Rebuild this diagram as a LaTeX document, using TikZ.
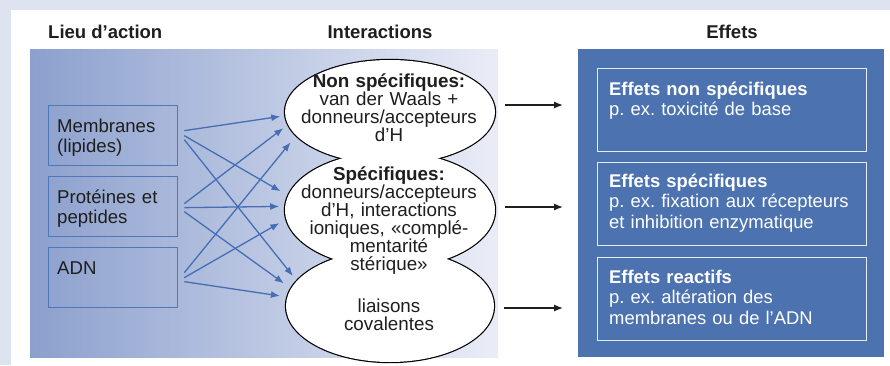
\documentclass[tikz,border=0pt]{standalone}
\usepackage{fontspec}
\setmainfont{Liberation Sans}
\frenchspacing
\usetikzlibrary{arrows.meta,shapes.geometric}
\definecolor{bgstrip}{RGB}{222,228,239}
\definecolor{gradL}{RGB}{140,160,205}
\definecolor{gradR}{RGB}{234,237,247}
\definecolor{boxblue}{RGB}{79,120,184}
\definecolor{arrblue}{RGB}{70,110,180}
\definecolor{panelblue}{RGB}{76,115,176}
\definecolor{fborder}{RGB}{230,236,246}
\definecolor{txt}{RGB}{30,30,30}
\tikzset{
  hdr/.style={font=\fontsize{18.5}{20}\selectfont\bfseries, text=txt, inner sep=0pt},
  lbox/.style={draw=boxblue, line width=1.3pt, minimum width=129pt, minimum height=60pt, inner sep=0pt, anchor=north west},
  ltxt/.style={anchor=base west, text width=120pt, align=left, inner sep=0pt, text=txt, font=\fontsize{18.6}{20}\selectfont},
  ell/.style={ellipse, draw=black, line width=2.4pt, inner sep=0pt, outer sep=0pt},
  etxt/.style={anchor=base, text width=204pt, align=center, inner sep=0pt, text=txt, font=\fontsize{18.8}{18}\selectfont},
  fbox/.style={draw=fborder, line width=1.4pt, minimum width=269pt, minimum height=83pt, inner sep=0pt, anchor=north west},
  ftxt/.style={anchor=base west, text width=255pt, align=left, inner sep=0pt, text=white, font=\fontsize{18.4}{20.5}\selectfont},
  barr/.style={draw=arrblue, line width=1.3pt, -{Latex[length=9pt,width=7pt]}},
  karr/.style={draw=black!88, line width=1.3pt, -{Latex[length=9pt,width=7pt]}, shorten >=34pt}
}
\begin{document}
\begin{tikzpicture}[x=1pt,y=-1pt]
\useasboundingbox (0,0) rectangle (890,365);
\fill[bgstrip] (0,0) rectangle (890,365);
\fill[white] (11,10) rectangle (890,365);
\shade[left color=gradL, right color=gradR] (30,49) rectangle (498,357);
\fill[panelblue] (578,49) rectangle (884,357);

% headers
\node[hdr, anchor=base west] (h1) at (48,38) {Lieu d’action};
\node[hdr, anchor=base] (h2) at (380,38) {Interactions};
\node[hdr, anchor=base] (h3) at (732,38) {Effets};

% left boxes
\node[lbox] (mem) at (48,105) {};
\node[lbox] (pro) at (48,176) {};
\node[lbox] (adn) at (48,247) {};
\node[ltxt] (memt) at ([xshift=9pt,yshift=-27pt]mem.north west) {Membranes\\(lipides)};
\node[ltxt] (prot) at ([xshift=9pt,yshift=-27pt]pro.north west) {Protéines et\\peptides};
\node[ltxt] (adnt) at ([xshift=9pt,yshift=-27pt]adn.north west) {ADN};

% ellipses (union outline)
\node[ell, minimum width=210pt, minimum height=104pt] (e1) at (390,112) {};
\node[ell, minimum width=210pt, minimum height=116pt] (e2) at (390,210) {};
\node[ell, minimum width=208pt, minimum height=112pt] (e3) at (390,306) {};
\fill[white] (e1.center) ellipse [x radius=105pt, y radius=52pt];
\fill[white] (e2.center) ellipse [x radius=105pt, y radius=58pt];
\fill[white] (e3.center) ellipse [x radius=104pt, y radius=56pt];

\node[etxt] (t1) at (389,87) {\textbf{Non spécifiques:}\\van der Waals +\\donneurs/accepteurs\\d’H};
\node[etxt] (t2) at (389,180) {\textbf{Spécifiques:}\\donneurs/accepteurs\\d’H, interactions\\ioniques, «complé-\\mentarité\\stérique»};
\node[etxt] (t3) at (389,312) {liaisons\\covalentes};

% effects
\node[fbox] (f1) at (597,68) {};
\node[fbox] (f2) at (597,162) {};
\node[fbox] (f3) at (597,257) {};
\node[ftxt] (f1t) at ([xshift=12pt,yshift=-27pt]f1.north west) {\textbf{Effets non spécifiques}\\p. ex. toxicité de base};
\node[ftxt] (f2t) at ([xshift=12pt,yshift=-25pt]f2.north west) {\textbf{Effets spécifiques}\\p. ex. fixation aux récepteurs\\et inhibition enzymatique};
\node[ftxt] (f3t) at ([xshift=12pt,yshift=-26pt]f3.north west) {\textbf{Effets reactifs}\\p. ex. altération des\\membranes ou de l’ADN};

% blue arrows
\draw[barr, shorten >=5pt] ([xshift=6pt,yshift=5pt]mem.east) -- (e1.182);
\draw[barr, shorten >=9pt] ([xshift=6pt]mem.east) -- (e2.172);
\draw[barr, shorten >=6.5pt] ([xshift=6pt,yshift=-4pt]mem.east) -- (e3.165);
\draw[barr, shorten >=6pt] ([xshift=6pt,yshift=3pt]pro.east) -- (e1.187);
\draw[barr, shorten >=6pt] ([xshift=6pt,yshift=-1pt]pro.east) -- (e2.178);
\draw[barr, shorten >=9pt] ([xshift=6pt,yshift=-5pt]pro.east) -- (e3.170);
\draw[barr, shorten >=9pt] ([xshift=6pt,yshift=5pt]adn.east) -- (e1.194);
\draw[barr, shorten >=8pt] ([xshift=6pt]adn.east) -- (e2.185);
\draw[barr, shorten >=7.5pt] ([xshift=6pt,yshift=-4pt]adn.east) -- (e3.175);

% black arrows
\coordinate (a1) at ([xshift=10pt,yshift=7pt]e1.east);
\coordinate (a2) at ([xshift=10pt,yshift=3pt]e2.east);
\coordinate (a3) at ([xshift=10pt,yshift=-2pt]e3.east);
\draw[karr] (a1) -- (a1 -| f1.west);
\draw[karr] (a2) -- (a2 -| f2.west);
\draw[karr] (a3) -- (a3 -| f3.west);
\end{tikzpicture}
\end{document}
